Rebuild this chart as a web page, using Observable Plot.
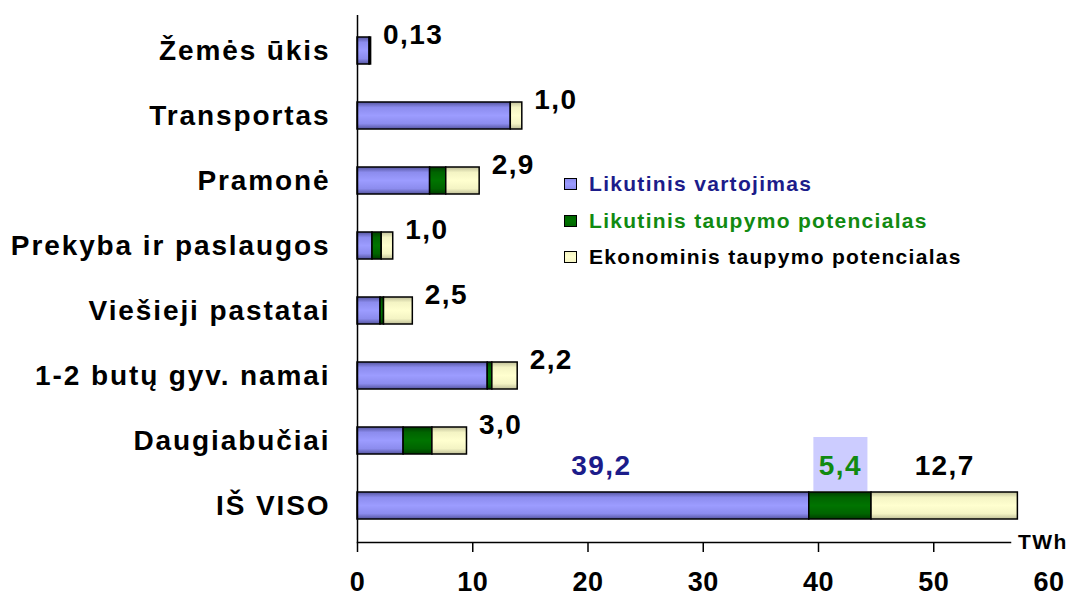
<!DOCTYPE html>
<html>
<head>
<meta charset="utf-8">
<script src="https://cdn.jsdelivr.net/npm/d3@7"></script>
<script src="https://cdn.jsdelivr.net/npm/@observablehq/plot@0.6"></script>
<style>
  body { margin: 0; background: #fff; }
  #wrap { position: relative; width: 1069px; height: 596px; font-family: "Liberation Sans", Arial, sans-serif; }
  #wrap svg text { letter-spacing: 1.4px; }
  #wrap svg [aria-label="y-axis tick label"] text { letter-spacing: 1.9px; }
  #wrap svg [aria-label="x-axis tick label"] text { letter-spacing: 0.5px; }
  #legend { position: absolute; left: 564px; top: 166px; font-weight: bold; font-size: 21px; letter-spacing: 1.3px; }
  .lrow { height: 36.5px; display: flex; align-items: center; white-space: nowrap; }
  .sw { width: 11px; height: 10px; border: 1px solid #000; margin-right: 12px; }
</style>
</head>
<body>
<div id="wrap"></div>
<script>
const categories = ["Žemės ūkis", "Transportas", "Pramonė", "Prekyba ir paslaugos", "Viešieji pastatai", "1-2 butų gyv. namai", "Daugiabučiai", "IŠ VISO"];
const series = ["Likutinis vartojimas", "Likutinis taupymo potencialas", "Ekonominis taupymo potencialas"];
const residualUse = [1.05, 13.3, 6.3, 1.3, 2.0, 11.3, 4.0, 39.2];
const residualSaving = [0, 0, 1.4, 0.8, 0.3, 0.4, 2.5, 5.4];
const economicSaving = [0.13, 1.0, 2.9, 1.0, 2.5, 2.2, 3.0, 12.7];
const rowLabels = ["0,13", "1,0", "2,9", "1,0", "2,5", "2,2", "3,0"];
const totalLabels = ["39,2", "5,4", "12,7"];
const xTicks = [0, 10, 20, 30, 40, 50, 60];
const unit = "TWh";

const seriesValues = [residualUse, residualSaving, economicSaving];
const data = categories.flatMap((c, i) => series.map((s, k) => ({cat: c, series: s, value: seriesValues[k][i]})));

const rows = categories.slice(0, rowLabels.length).map((c, i) => ({
  cat: c, total: residualUse[i] + residualSaving[i] + economicSaving[i], label: rowLabels[i]
}));

const last = categories.length - 1;
let acc = 0;
const totalSegs = series.map((s, k) => {
  const v = seriesValues[k][last];
  const seg = {cat: categories[last], mid: acc + v / 2, label: totalLabels[k]};
  acc += v;
  return seg;
});
const totalColors = ["#1c1c8a", "#118a11", "#000000"];
const totalDx = [18, 0, 0];
const gradIds = ["gPurple", "gGreen", "gBeige"];
const font = "'Liberation Sans', Arial, sans-serif";

const chart = Plot.plot({
  width: 1069,
  height: 596,
  marginLeft: 357,
  marginRight: 20.5,
  marginTop: 15,
  marginBottom: 54,
  style: {fontFamily: font, background: "#fff", color: "#000"},
  x: {domain: [0, 60]},
  y: {domain: categories, paddingInner: 0.582, paddingOuter: 0.296},
  color: {domain: series, range: gradIds.map(id => `url(#${id})`)},
  marks: [
    Plot.dot([totalSegs[1]], {x: "mid", y: "cat", symbol: "square", r: 30.5, fill: "#ccccff", dy: -42}),
    Plot.barX(data, {x: "value", y: "cat", fill: "series", stroke: "#000", strokeWidth: 1.5}),
    Plot.ruleX([0], {stroke: "#000", strokeWidth: 1.5}),
    Plot.frame({anchor: "bottom", insetRight: 38.5, stroke: "#000", strokeWidth: 1.5}),
    Plot.axisX({ticks: xTicks.slice(0, -1), tickSize: 10, tickFormat: () => "", stroke: "#000", strokeWidth: 1.5, label: null}),
    Plot.axisX({ticks: xTicks, tickSize: 0, tickPadding: 29, fontSize: 27, fontWeight: "bold", fill: "#000", label: null}),
    Plot.axisY({tickSize: 0, tickPadding: 27, fontSize: 28, fontWeight: "bold", fill: "#000", label: null}),
    Plot.text([unit], {frameAnchor: "bottom-right", text: d => d, textAnchor: "start", dx: -31, dy: 6, fontSize: 21, fontWeight: "bold", fill: "#000"}),
    Plot.text(rows, {x: "total", y: "cat", text: "label", textAnchor: "start", dx: 12, dy: -16, fontSize: 28, fontWeight: "bold", fill: "#000"}),
    ...totalSegs.map((s, k) => Plot.text([s], {x: "mid", y: "cat", text: "label", dx: totalDx[k], dy: -40, fontSize: 28, fontWeight: "bold", fill: totalColors[k]}))
  ]
});

// gradient definitions for bar shading
const svg = d3.select(chart);
const defs = svg.insert("defs", ":first-child");
const grads = [
  ["gPurple", ["#55559f", "#8c8cee", "#9c9cff", "#8c8cee", "#55559f"]],
  ["gGreen", ["#003d00", "#006400", "#007400", "#006400", "#003d00"]],
  ["gBeige", ["#bfbf98", "#f4f4c4", "#ffffcf", "#f4f4c4", "#bfbf98"]]
];
for (const [id, stops] of grads) {
  const g = defs.append("linearGradient").attr("id", id).attr("x1", 0).attr("y1", 0).attr("x2", 0).attr("y2", 1);
  [0, 0.2, 0.5, 0.8, 1].forEach((o, i) => g.append("stop").attr("offset", o).attr("stop-color", stops[i]));
}

const wrap = document.getElementById("wrap");
wrap.appendChild(chart);

// legend
const legend = document.createElement("div");
legend.id = "legend";
const legendText = ["#1c1c8a", "#118a11", "#000000"];
series.forEach((s, k) => {
  const row = document.createElement("div");
  row.className = "lrow";
  const sw = document.createElement("div");
  sw.className = "sw";
  sw.style.background = `linear-gradient(${grads[k][1][1]}, ${grads[k][1][2]}, ${grads[k][1][3]})`;
  const t = document.createElement("span");
  t.textContent = s;
  t.style.color = legendText[k];
  row.appendChild(sw);
  row.appendChild(t);
  legend.appendChild(row);
});
wrap.appendChild(legend);
</script>
</body>
</html>
